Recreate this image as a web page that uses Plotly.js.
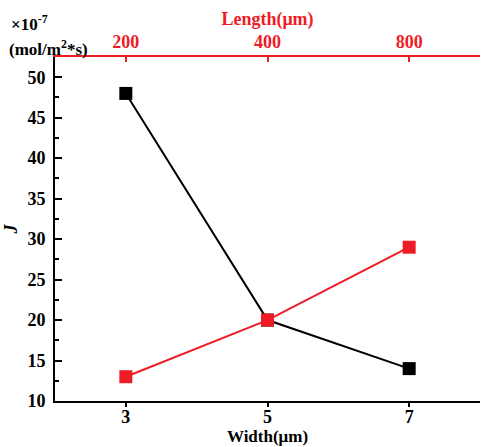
<!DOCTYPE html>
<html><head><meta charset="utf-8">
<script src="https://cdn.plot.ly/plotly-3.0.1.min.js"></script>
<style>body{margin:0;padding:0;background:#fff}#chart{width:481px;height:447px}</style>
</head><body><div id="chart"></div>
<script>
var widths = [3, 5, 7];
var lengths = ['200', '400', '800'];
var jWidth = [48, 20, 14];
var jLength = [13, 20, 29];
var yTicks = [10, 15, 20, 25, 30, 35, 40, 45, 50];

var fontFam = 'Liberation Serif';
var red = '#ee1c25';

var traces = [
  {x: widths, y: jWidth, xaxis: 'x', yaxis: 'y', mode: 'lines+markers', type: 'scatter',
   line: {color: '#000', width: 2}, marker: {symbol: 'square', size: 13, color: '#000'}, showlegend: false},
  {x: lengths, y: jLength, xaxis: 'x2', yaxis: 'y', mode: 'lines+markers', type: 'scatter',
   line: {color: red, width: 2}, marker: {symbol: 'square', size: 13, color: red}, showlegend: false}
];

var layout = {
  width: 481, height: 447,
  margin: {l: 55, r: 1, t: 57, b: 46},
  paper_bgcolor: '#fff', plot_bgcolor: '#fff',
  font: {family: fontFam, size: 18, color: '#000'},
  xaxis: {
    range: [2, 8], tickvals: widths, ticktext: widths.map(String),
    showline: true, linecolor: '#000', linewidth: 2, mirror: false,
    ticks: 'outside', ticklen: 4, tickwidth: 2, tickcolor: '#000',
    showgrid: false, zeroline: false,
    ticklabelstandoff: -6,
    tickfont: {family: fontFam, size: 18, color: '#000', weight: 'bold'},
    title: {text: '<b>Width(μm)</b>', font: {family: fontFam, size: 17, color: '#000'}, standoff: 0}
  },
  xaxis2: {
    type: 'category', categoryarray: lengths, range: [-0.5, 2.5],
    overlaying: 'x', side: 'top', anchor: 'y',
    showline: true, linecolor: red, linewidth: 2,
    ticks: 'inside', ticklen: 5, tickwidth: 2, tickcolor: red,
    showgrid: false, zeroline: false,
    tickfont: {family: fontFam, size: 18, color: red, weight: 'bold'},
    title: {text: '<b>Length(μm)</b>', font: {family: fontFam, size: 18, color: red}, standoff: 1}
  },
  yaxis: {
    range: [10, 52.5], tickvals: yTicks,
    showline: true, linecolor: '#000', linewidth: 2,
    ticks: 'inside', ticklen: 7, tickwidth: 2, tickcolor: '#000',
    minor: {dtick: 2.5, ticks: 'inside', ticklen: 4, tickwidth: 2, tickcolor: '#000'},
    showgrid: false, zeroline: false,
    tickfont: {family: fontFam, size: 18, color: '#000', weight: 'bold'},
    ticklabelstandoff: 4,
    title: {text: '<b><i>J</i></b>', font: {family: fontFam, size: 18, color: '#000'}, standoff: 5}
  },
  annotations: [
    {xref: 'paper', yref: 'paper', x: -0.108, y: 1.1, xanchor: 'left', yanchor: 'middle', showarrow: false,
     text: '<b>×10<sup>-7</sup></b>', font: {family: fontFam, size: 17, color: '#000'}},
    {xref: 'paper', yref: 'paper', x: -0.112, y: 1.027, xanchor: 'left', yanchor: 'middle', showarrow: false,
     text: '<b>(mol/m<sup>2</sup>*s)</b>', font: {family: fontFam, size: 17, color: '#000'}}
  ]
};
Plotly.newPlot('chart', traces, layout, {displayModeBar: false, staticPlot: true});
</script></body></html>
